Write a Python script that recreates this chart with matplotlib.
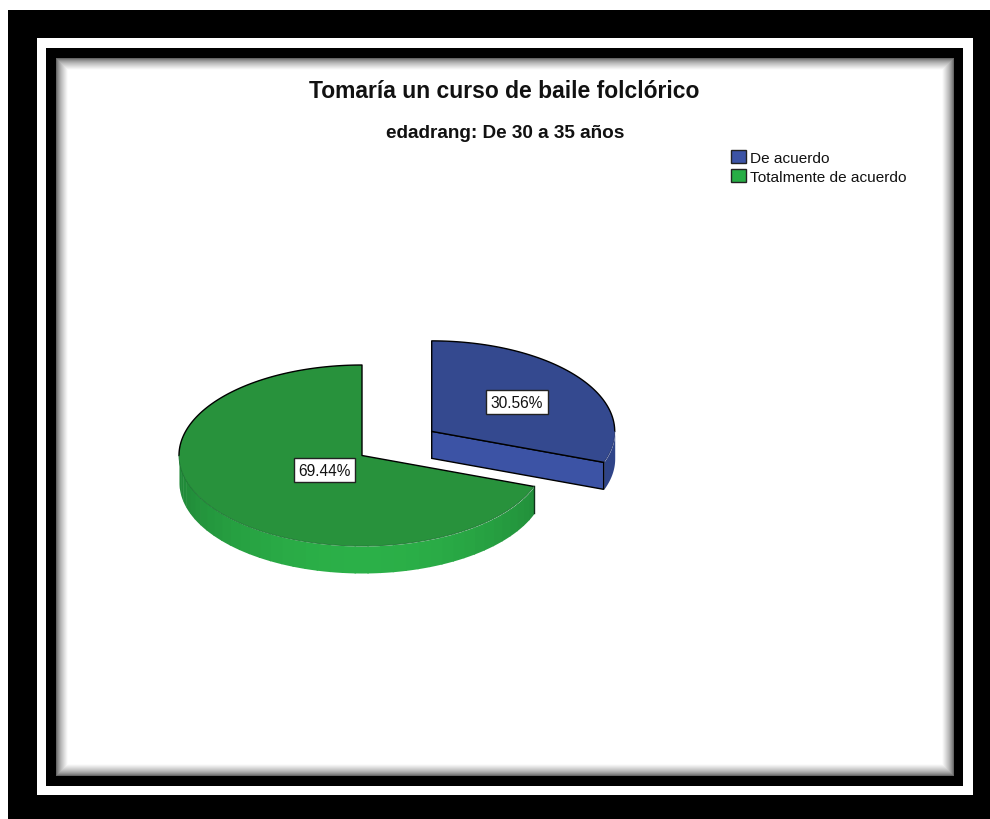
import numpy as np
import matplotlib
matplotlib.use("Agg")
import matplotlib.pyplot as plt
from matplotlib.patches import Rectangle, Patch

# ---- data ----
categories = ["De acuerdo", "Totalmente de acuerdo"]
percentages = [30.56, 69.44]
explode = [0.465, 0.0]
title = "Tomaría un curso de baile folclórico"
subtitle = "edadrang: De 30 a 35 años"

# ---- style / layout ----
plt.rcParams["font.family"] = ["Liberation Sans", "DejaVu Sans"]
W, H = 990, 820
CX, CY, RX, RY, DEPTH = 362.0, 456.5, 183.0, 90.5, 27.0
depth = DEPTH / RY
top_colors = ["#34498f", "#28923c"]
blue_front, blue_rim = "#3c53a5", "#2f4488"
green_dark, green_bright = np.array([0x20, 0x88, 0x38]) / 255, np.array([0x2b, 0xb0, 0x48]) / 255

fig = plt.figure(figsize=(W / 100, H / 100), dpi=100, facecolor="white")

# ---- picture frame (pixel space) ----
bg = fig.add_axes([0, 0, 1, 1])
bg.set_xlim(0, W)
bg.set_ylim(H, 0)
bg.axis("off")
bg.add_patch(Rectangle((8, 11), W - 8, H - 11, fc="black", ec="none"))
bg.add_patch(Rectangle((37, 39), 936, 757, fc="white", ec="none"))
bg.add_patch(Rectangle((46, 49), 917, 738, fc="black", ec="none"))
x0, x1, y0, y1 = 56, 954, 59, 777
xx, yy = np.meshgrid(np.arange(x0, x1) + .5, np.arange(y0, y1) + .5)
dist = np.minimum.reduce([xx - x0, x1 - xx, yy - y0, y1 - yy])
shade = 0.3 + 0.7 * np.clip(dist / 12.0, 0, 1) ** 0.6
bg.imshow(shade, extent=(x0, x1, y1, y0), cmap="gray", vmin=0, vmax=1,
          aspect="auto", interpolation="nearest", zorder=1)
bg.set_xlim(0, W)
bg.set_ylim(H, 0)

# ---- text ----
fig.text(504.5 / W, 1 - 92 / H, title, ha="center", va="center",
         fontsize=16.5, fontweight="bold", color="#111111")
fig.text(505.5 / W, 1 - 133.5 / H, subtitle, ha="center", va="center",
         fontsize=13.7, fontweight="bold", color="#111111")

# ---- pie: one axis unit is RX px horizontally and RY px vertically ----
ax = fig.add_axes([0, 0, 1, 1], facecolor="none")
ax.patch.set_alpha(0)

def arc(theta_deg, cx=0.0, cy=0.0):
    t = np.radians(theta_deg)
    return cx + np.sin(t), cy + np.cos(t)

angles = np.cumsum([0] + [p * 3.6 for p in percentages])
mids = (angles[:-1] + angles[1:]) / 2
offs = [(e * np.sin(np.radians(m)), e * np.cos(np.radians(m))) for e, m in zip(explode, mids)]

# side walls, under the tops
b0, b1 = angles[0], angles[1]
(bx, by) = offs[0]
th = np.linspace(90, b1, 30)
xs, ys = arc(th, bx, by)
ax.fill_between(xs, ys, ys - depth, color=blue_rim, lw=0, zorder=2)
ex, ey = arc(b1, bx, by)
ax.fill([bx, ex, ex, bx], [by, ey, ey - depth, by - depth], fc=blue_front, ec="black", lw=1.0, zorder=4)

g0, g1 = angles[1], angles[2]
edges = np.linspace(g0, 270, 41)
for a, b in zip(edges[:-1], edges[1:]):
    th = np.linspace(a, b + 0.5, 5)
    xs, ys = arc(th)
    m = (a + b) / 2
    k = np.clip(np.cos(np.radians(m - 180)), 0, 1) ** 1.6
    ax.fill_between(xs, ys, ys - depth, color=green_dark + (green_bright - green_dark) * k, lw=0, zorder=2)
gx, gy = arc(g0)
ax.plot([gx, gx], [gy, gy - depth], color="#10301a", lw=1.0, zorder=5)

# tops
wedges, _ = ax.pie(percentages, explode=explode, colors=top_colors, startangle=90,
                   counterclock=False, radius=1.0, frame=True,
                   wedgeprops=dict(linewidth=0, zorder=6))

# outlines on the tops
th = np.linspace(b0, 90, 80)
xs, ys = arc(th, bx, by)
ax.plot(np.r_[bx, xs], np.r_[by, ys], color="black", lw=1.0, zorder=7)
th = np.linspace(90, b1, 20)
xs, ys = arc(th, bx, by)
ax.plot(xs, ys, color="#22336e", lw=0.6, zorder=7)
ax.plot([bx, ex], [by, ey], color="black", lw=1.0, zorder=7)
th = np.linspace(270, 360, 80)
xs, ys = arc(th)
ax.plot(np.r_[xs, 0, gx], np.r_[ys, 0, gy], color="black", lw=1.0, zorder=7)
th = np.linspace(g0, 270, 80)
xs, ys = arc(th)
ax.plot(xs, ys, color="#1d7432", lw=0.6, zorder=7)

ax.set_aspect("auto")
ax.set_xlim((0 - CX) / RX, (W - CX) / RX)
ax.set_ylim((CY - H) / RY, CY / RY)
ax.set_xticks([])
ax.set_yticks([])
for s in ax.spines.values():
    s.set_visible(False)

# percentage labels
label_xy = [((517 - CX) / RX, (CY - 403) / RY), ((324.5 - CX) / RX, (CY - 471) / RY)]
for p, (lx, ly) in zip(percentages, label_xy):
    ax.text(lx, ly, f"{p:.2f}%", ha="center", va="center", fontsize=11.2, color="#111111", zorder=10,
            bbox=dict(boxstyle="square,pad=0.3", fc="white", ec="#222222", lw=1.0))

# legend
handles = [Patch(facecolor=c, edgecolor="#222222", lw=1.0) for c in ["#3c53a5", "#27ad45"]]
fig.legend(handles, categories, loc="upper left", bbox_to_anchor=(731 / W, 1 - 150.5 / H),
           bbox_transform=fig.transFigure, frameon=False, fontsize=11.05, borderpad=0, borderaxespad=0,
           handlelength=0.98, handleheight=0.98, labelspacing=0.28, handletextpad=0.28,
           labelcolor="#111111")

fig.savefig("out.png", dpi=100, facecolor="white")
